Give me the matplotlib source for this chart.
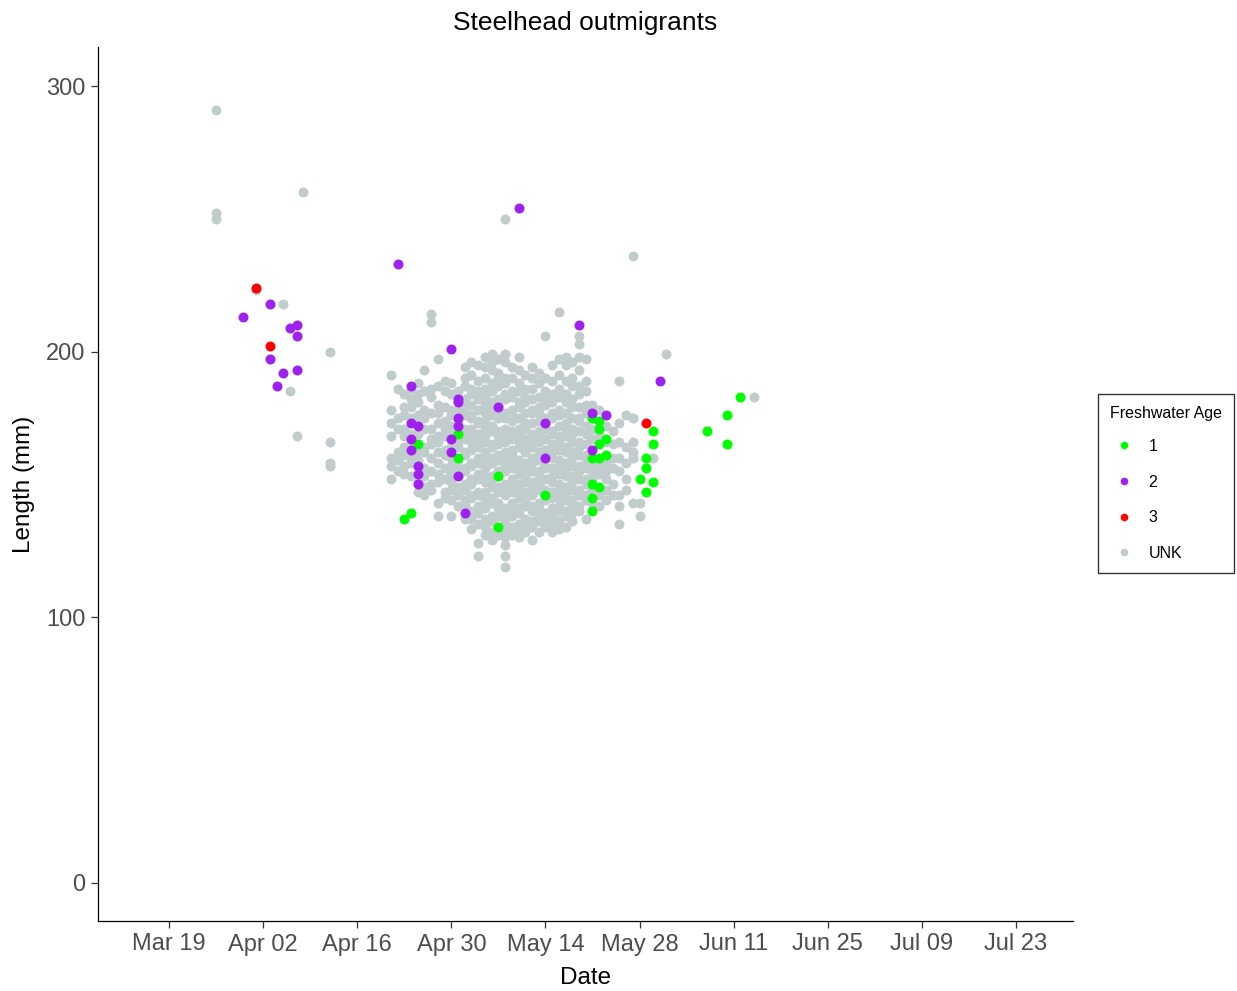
import datetime as dt
import matplotlib
matplotlib.use("Agg")
import matplotlib.pyplot as plt
import matplotlib.dates as mdates
from matplotlib.lines import Line2D

plt.rcParams["font.family"] = ["Liberation Sans", "DejaVu Sans"]

# Season start; day offsets below are counted from this date
start = dt.date(2021, 3, 19)

# Fish of unknown freshwater age: day offset -> fork lengths (mm)
unk_by_day = {
    7: [291, 252, 250],
    13: [223],
    17: [218],
    18: [185],
    19: [168],
    20: [260],
    24: [200, 166, 158, 157],
    33: [191, 178, 173, 168, 160, 157, 152],
    34: [186, 175, 171, 162, 159, 155],
    35: [184, 179, 176, 171, 168, 164, 161, 157, 154],
    36: [186, 182, 179, 175, 169, 166, 160, 158, 153],
    37: [188, 184, 181, 176, 174, 169, 162, 159, 157, 151, 147],
    38: [193, 185, 178, 175, 171, 164, 162, 156, 153, 149, 146],
    39: [214, 211, 186, 183, 177, 171, 167, 165, 160, 155, 150, 148],
    40: [197, 187, 180, 177, 173, 168, 166, 162, 158, 154, 151, 143, 138],
    41: [189, 185, 179, 174, 171, 168, 163, 161, 156, 152, 147, 145],
    42: [188, 184, 178, 176, 172, 169, 164, 160, 157, 154, 151, 148, 144, 138],
    43: [185, 181, 178, 174, 169, 166, 164, 159, 156, 154, 149, 146, 142],
    44: [194, 190, 187, 182, 179, 176, 171, 170, 167, 162, 161, 156, 155,
         150, 148, 144, 142, 137],
    45: [196, 191, 186, 184, 180, 176, 175, 171, 168, 166, 163, 158, 157,
         152, 150, 146, 145, 140, 137, 133],
    46: [195, 189, 185, 182, 178, 174, 173, 169, 167, 164, 160, 158, 154,
         152, 147, 146, 142, 139, 135, 128, 123],
    47: [198, 194, 190, 186, 183, 180, 177, 174, 171, 168, 166, 162, 159,
         156, 153, 151, 147, 144, 141, 137, 134, 131],
    48: [199, 196, 193, 188, 185, 181, 179, 176, 172, 170, 165, 164, 160,
         158, 153, 152, 149, 145, 143, 138, 136, 132, 129],
    49: [197, 192, 190, 187, 182, 180, 176, 175, 170, 168, 165, 161, 159,
         155, 153, 149, 147, 143, 141, 138, 134, 131],
    50: [250, 199, 196, 190, 188, 184, 182, 177, 175, 171, 169, 166, 162,
         160, 157, 155, 150, 148, 146, 141, 139, 136, 133, 130, 127, 123, 119],
    51: [194, 190, 185, 183, 178, 176, 174, 170, 167, 163, 161, 158, 156,
         152, 149, 147, 143, 140, 138, 134, 131],
    52: [198, 193, 188, 185, 181, 179, 175, 171, 169, 166, 164, 159, 157,
         154, 150, 148, 145, 141, 139, 135, 133, 130],
    53: [191, 186, 183, 181, 177, 173, 171, 167, 165, 162, 158, 156, 153,
         151, 147, 144, 142, 137, 135, 132],
    54: [194, 190, 186, 182, 178, 177, 173, 169, 167, 164, 160, 158, 155,
         151, 149, 146, 142, 140, 136, 134, 129],
    55: [192, 188, 183, 179, 177, 174, 170, 168, 166, 162, 159, 155, 153,
         150, 148, 143, 141, 138, 136, 132],
    56: [206, 190, 185, 182, 180, 175, 173, 171, 167, 163, 161, 157, 156,
         152, 148, 146, 144, 139, 137, 134],
    57: [195, 189, 184, 181, 177, 175, 170, 169, 165, 162, 160, 156, 153,
         151, 147, 145, 141, 138, 135, 132],
    58: [215, 197, 191, 186, 183, 178, 176, 172, 168, 166, 163, 159, 157,
         154, 150, 148, 145, 142, 140, 136, 133],
    59: [198, 195, 189, 184, 181, 177, 173, 171, 168, 164, 162, 158, 156,
         153, 149, 147, 144, 140, 138, 134],
    60: [196, 190, 187, 182, 179, 175, 171, 169, 166, 162, 160, 157, 153,
         151, 148, 144, 142, 139, 136],
    61: [206, 203, 198, 193, 187, 184, 179, 175, 174, 170, 166, 164, 161,
         157, 155, 152, 148, 146, 142, 140],
    62: [197, 189, 185, 180, 177, 172, 169, 165, 161, 159, 156, 152, 150,
         146, 144, 137],
    63: [180, 176, 171, 167, 158, 155, 152, 148, 143],
    64: [178, 168, 157, 154, 146, 142],
    65: [172, 166, 158, 155, 152, 148, 144],
    66: [170, 165, 160, 156, 150, 146],
    67: [189, 173, 166, 160, 155, 146, 142, 135],
    68: [176, 164, 158, 152, 148],
    69: [236, 175, 166, 162, 160, 143],
    70: [143, 138],
    72: [160],
    74: [199],
    87: [183],
}

# Freshwater age 1
age1_days = [35, 36, 37, 43, 43, 49, 49, 56, 63, 64, 64, 65, 64, 63, 64, 65,
             63, 64, 63, 63, 72, 72, 71, 71, 70, 72, 71, 80, 83, 83, 85]
age1_lengths = [137, 139, 165, 169, 160, 153, 134, 146, 175, 174, 171, 167,
                165, 160, 160, 161, 150, 149, 145, 140, 170, 165, 160, 156,
                152, 151, 147, 170, 176, 165, 183]

# Freshwater age 2
age2_days = [11, 15, 15, 16, 17, 18, 19, 19, 19, 34, 52, 36, 42, 43, 43, 63,
             65, 49, 36, 37, 43, 43, 56, 36, 36, 42, 42, 63, 37, 37, 37, 56,
             43, 44, 61, 73]
age2_lengths = [213, 218, 197, 187, 192, 209, 210, 206, 193, 233, 254, 187,
                201, 182, 181, 177, 176, 179, 173, 172, 175, 172, 173, 167,
                163, 167, 162, 163, 157, 154, 150, 160, 153, 139, 210, 189]

# Freshwater age 3
age3_days = [13, 15, 71]
age3_lengths = [224, 202, 173]

x_tick_offsets = [0, 14, 28, 42, 56, 70, 84, 98, 112, 126]
y_ticks = [0, 100, 200, 300]

COL_UNK = "#C1CDCD"
COL_1 = "#00FF00"
COL_2 = "#A020F0"
COL_3 = "#FF0000"


def to_num(days):
    return [mdates.date2num(start + dt.timedelta(days=int(d))) for d in days]


unk_days, unk_lengths = [], []
for d, lens in unk_by_day.items():
    unk_days.extend([d] * len(lens))
    unk_lengths.extend(lens)

fig = plt.figure(figsize=(12.37, 9.91), dpi=100)
ax = fig.add_axes([98 / 1237, 70 / 991, 975 / 1237, 874 / 991])

ms = 52
ax.scatter(to_num(unk_days), unk_lengths, s=ms, color=COL_UNK, linewidths=0, zorder=2)
ax.scatter(to_num(age1_days), age1_lengths, s=ms, color=COL_1, linewidths=0, zorder=3)
ax.scatter(to_num(age2_days), age2_lengths, s=ms, color=COL_2, linewidths=0, zorder=3)
ax.scatter(to_num(age3_days), age3_lengths, s=ms, color=COL_3, linewidths=0, zorder=3)

x0 = mdates.date2num(start)
ax.set_xlim(x0 - 10.57, x0 + 134.5)
ax.set_ylim(-14.5, 314.7)

tick_dates = to_num(x_tick_offsets)
ax.set_xticks(tick_dates)
ax.set_xticklabels([(start + dt.timedelta(days=d)).strftime("%b %d") for d in x_tick_offsets])
ax.set_yticks(y_ticks)
ax.set_yticklabels([str(v) for v in y_ticks])

for side in ("top", "right"):
    ax.spines[side].set_visible(False)
for side in ("left", "bottom"):
    ax.spines[side].set_color("black")
    ax.spines[side].set_linewidth(0.9)

ax.tick_params(axis="both", length=5, width=0.9, color="#333333",
               labelcolor="#4D4D4D", labelsize=17, pad=4)

ax.set_xlabel("Date", fontsize=17.5, color="black", labelpad=8)
ax.set_ylabel("Length (mm)", fontsize=17.5, color="black", labelpad=8)
ax.set_title("Steelhead outmigrants", fontsize=19, color="black", pad=12)

handles = [Line2D([], [], linestyle="none", marker="o", markersize=5.5,
                  markerfacecolor=c, markeredgewidth=0)
           for c in (COL_1, COL_2, COL_3, COL_UNK)]
leg = fig.legend(handles, ["1", "2", "3", "UNK"], title="Freshwater Age",
                 loc="center left", bbox_to_anchor=(1098 / 1237, 1 - 483.5 / 991),
                 fontsize=11.5, title_fontsize=11.5, frameon=True, fancybox=False,
                 edgecolor="black", borderpad=0.75, labelspacing=1.3,
                 handletextpad=0.6, handlelength=1.8, borderaxespad=0)
leg.get_frame().set_linewidth(1.0)
leg._legend_box.align = "left"
leg._legend_box.sep = 12.8

fig.savefig("out.png", dpi=100, facecolor="white")
